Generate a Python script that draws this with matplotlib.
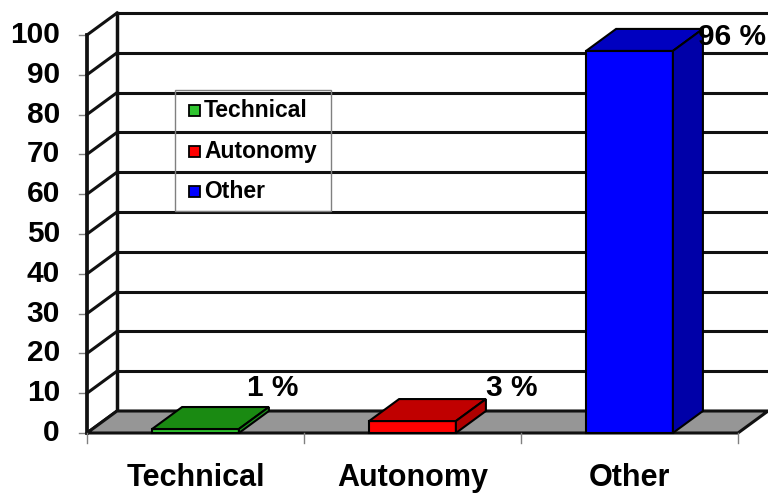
import matplotlib
matplotlib.use("Agg")
import matplotlib.pyplot as plt
from matplotlib.patches import Polygon, Rectangle

# ---- data ----
categories = ["Technical", "Autonomy", "Other"]
values = [1, 3, 96]
value_labels = ["1 %", "3 %", "96 %"]
y_ticks = [0, 10, 20, 30, 40, 50, 60, 70, 80, 90, 100]

# ---- styling ----
front_cols = ["#2fc42f", "#ff0000", "#0000ff"]
top_cols = ["#1a8a12", "#c00000", "#0000c0"]
side_cols = ["#1d9a1d", "#b00000", "#0000a8"]
FONT = "Liberation Sans"

W, H = 768, 495
fig = plt.figure(figsize=(W / 100, H / 100), dpi=100)
ax = fig.add_axes([0, 0, 1, 1])

# pixel geometry of the reference
X0PX, CATPX = 87.0, 217.0          # x of category 0 and width of a category
Y0PX, VPX = 433.0, 3.98            # y of value 0 and pixels per value unit
ax.set_xlim(-X0PX / CATPX, (W - X0PX) / CATPX)
ax.set_ylim(-(H - Y0PX) / VPX, Y0PX / VPX)
ax.axis("off")

DX = 30.0 / CATPX    # depth offset (category units)
DY = 22.0 / VPX      # depth offset (value units)
N = len(categories)
ymax = y_ticks[-1]
LW = 2.2

# back wall and side wall
ax.add_patch(Polygon([(DX, DY), (N + DX, DY), (N + DX, ymax + DY), (DX, ymax + DY)],
                     closed=True, facecolor="white", edgecolor="none", zorder=1))
for v in y_ticks:
    ax.plot([DX, N + DX], [v + DY, v + DY], color="#111111", lw=LW, zorder=2,
            solid_capstyle="butt")
    ax.plot([0, DX], [v, v + DY], color="#111111", lw=LW, zorder=2)
    ax.plot([-8 / CATPX, 0], [v, v], color="#808080", lw=1.0, zorder=2)
    ax.text(-27 / CATPX, v, str(v), ha="right", va="center", fontsize=21.5,
            fontweight="bold", family=FONT, zorder=5)
ax.plot([DX, DX], [DY, ymax + DY], color="#111111", lw=2.5, zorder=2)
ax.plot([0, 0], [0, ymax], color="#111111", lw=2.7, zorder=3)

# floor
ax.add_patch(Polygon([(0, 0), (N, 0), (N + DX, DY), (DX, DY)], closed=True,
                     facecolor="#969696", edgecolor="#111111", lw=LW, zorder=3))
for i in range(N + 1):
    ax.plot([i, i], [0, -10 / VPX], color="#808080", lw=1.0, zorder=3)

# bars
bw = 0.40
for i, v in enumerate(values):
    c = i + 0.5
    l, r = c - bw / 2, c + bw / 2
    ax.add_patch(Polygon([(l, 0), (r, 0), (r, v), (l, v)], closed=True,
                         facecolor=front_cols[i], edgecolor="black", lw=1.5, zorder=4))
    ax.add_patch(Polygon([(l, v), (r, v), (r + DX, v + DY), (l + DX, v + DY)], closed=True,
                         facecolor=top_cols[i], edgecolor="black", lw=1.5, zorder=4))
    ax.add_patch(Polygon([(r, 0), (r + DX, DY), (r + DX, v + DY), (r, v)], closed=True,
                         facecolor=side_cols[i], edgecolor="black", lw=1.5, zorder=4))
    ax.text(c, -45 / VPX, categories[i], ha="center", va="center", fontsize=22,
            fontweight="bold", family=FONT, zorder=5)

# value labels (placement nudges per bar)
label_dx = [0.357, 0.459, 0.0]
label_y = [11.3, 11.3, 99.5]
for i, txt in enumerate(value_labels):
    if i == len(value_labels) - 1:
        # keep the last label inside the right edge
        ax.text((W - 2 - X0PX) / CATPX, label_y[i], txt, ha="right", va="center",
                fontsize=21.5, fontweight="bold", family=FONT, zorder=6)
    else:
        ax.text(i + 0.5 + label_dx[i], label_y[i], txt, ha="center", va="center",
                fontsize=21.5, fontweight="bold", family=FONT, zorder=6)

# legend (transparent box, gridlines show through)
def px2d(xp, yp):
    return (xp - X0PX) / CATPX, (Y0PX - yp) / VPX

lx0, ly0 = px2d(175, 90)
lx1, ly1 = px2d(331, 211)
ax.add_patch(Rectangle((lx0, ly1), lx1 - lx0, ly0 - ly1, facecolor="none",
                       edgecolor="#808080", lw=1.0, zorder=5))
row_y = [110, 151, 191]
for i, name in enumerate(categories):
    mx, my = px2d(189, row_y[i] + 5.5)
    ax.add_patch(Rectangle((mx, my), 11 / CATPX, 11 / VPX, facecolor=front_cols[i],
                           edgecolor="black", lw=1.3, zorder=6))
    tx, ty = px2d(204, row_y[i])
    ax.text(tx, ty, name, ha="left", va="center", fontsize=16.5, fontweight="bold",
            family=FONT, zorder=6)

fig.savefig("out.png", dpi=100)
